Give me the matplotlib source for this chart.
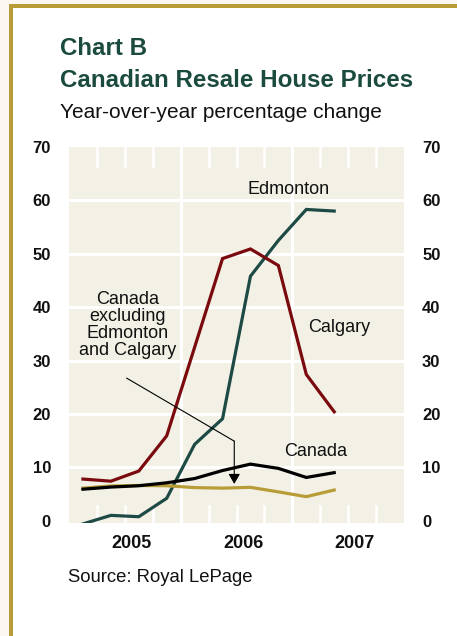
import matplotlib
matplotlib.use("Agg")
import matplotlib.pyplot as plt
from matplotlib.patches import Rectangle

plt.rcParams['font.family'] = ['Liberation Sans', 'DejaVu Sans']

# ---------------- data ----------------
quarters = ['2005Q1', '2005Q2', '2005Q3', '2005Q4',
            '2006Q1', '2006Q2', '2006Q3', '2006Q4',
            '2007Q1', '2007Q2']
calgary = [7.8, 7.4, 9.3, 15.9, 32.5, 49.1, 50.9, 47.8, 27.4, 20.4]
edmonton = [-0.6, 1.0, 0.75, 4.2, 14.3, 19.1, 45.8, 52.5, 58.3, 58.0]
canada = [5.9, 6.3, 6.55, 7.1, 7.9, 9.4, 10.6, 9.8, 8.1, 9.0]
canada_excl = [6.1, 6.5, 6.6, 6.55, 6.2, 6.1, 6.25, 5.4, 4.5, 5.75]
year_labels = ['2005', '2006', '2007']
y_ticks = [0, 10, 20, 30, 40, 50, 60, 70]

x = [int(q[:4]) + (int(q[-1]) - 0.5) / 4 for q in quarters]

# ---------------- colours ----------------
bg_out = '#faf8f0'
gold = '#b89c38'
plot_bg = '#f3f1e6'
red = '#7a0a0d'
teal = '#1d4a44'
title_col = '#1b4a3e'
txt = '#111111'

W, H = 457, 636
fig = plt.figure(figsize=(W / 100, H / 100), dpi=100, facecolor=bg_out)

# frame
fig.patches.append(Rectangle((9 / W, 0), 1, 1 - 4 / H, transform=fig.transFigure,
                             facecolor=gold, edgecolor='none', zorder=-2))
fig.patches.append(Rectangle((13 / W, 0), 1, 1 - 8 / H, transform=fig.transFigure,
                             facecolor='white', edgecolor='none', zorder=-1))

ax = fig.add_axes([69 / W, (H - 523) / H, 335 / W, 376 / H])
ax.set_zorder(2)
ax.set_facecolor(plot_bg)
ax.set_xlim(2005, 2008)
ax.set_ylim(-0.43, 70)
for s in ax.spines.values():
    s.set_visible(False)

# grid
for yv in y_ticks[1:-1]:
    ax.axhline(yv, color='white', lw=2.2, zorder=1)
for yr in (2006, 2007):
    ax.axvline(yr, color='white', lw=2.2, zorder=1)
for yr in (2005, 2006, 2007):
    for q in (0.25, 0.5, 0.75):
        ax.axvline(yr + q, ymin=0, ymax=0.044, color='white', lw=1.8, zorder=1)
        ax.axvline(yr + q, ymin=0.95, ymax=1, color='white', lw=1.8, zorder=1)

# lines
ax.plot(x, edmonton, color=teal, lw=2.3, zorder=3, solid_joinstyle='miter')
ax.plot(x, calgary, color=red, lw=2.3, zorder=3, solid_joinstyle='miter')
ax.plot(x, canada_excl, color=gold, lw=2.3, zorder=4, solid_joinstyle='miter')
ax.plot(x, canada, color='black', lw=2.3, zorder=5, solid_joinstyle='miter')

# ticks
ax.set_yticks(y_ticks)
ax.set_yticklabels([str(v) for v in y_ticks])
ax.set_xticks([2005.56, 2006.56, 2007.56])
ax.set_xticklabels(year_labels)
ax.tick_params(axis='y', length=0, pad=13, labelsize=12, left=False, right=False,
               labelleft=True, labelright=True)
ax.tick_params(axis='x', length=0, pad=9, labelsize=13)
for lab in ax.get_yticklabels() + ax.get_xticklabels():
    lab.set_fontweight('bold')
    lab.set_color(txt)

# annotations
ax.text(2006.963, 62.1, 'Edmonton', fontsize=13, ha='center', va='center', color=txt, zorder=6)
ax.text(2007.42, 36.2, 'Calgary', fontsize=13, ha='center', va='center', color=txt, zorder=6)
ax.text(2007.208, 12.9, 'Canada', fontsize=13, ha='center', va='center', color=txt, zorder=6)
ax.text(2005.521, 36.6, 'Canada\nexcluding\nEdmonton\nand Calgary', fontsize=13,
        ha='center', va='center', color=txt, linespacing=1.0, zorder=6)

ax.plot([2005.517, 2006.48], [26.7, 14.9], color='black', lw=0.8, zorder=6)
ax.annotate('', xy=(2006.48, 6.9), xytext=(2006.48, 14.9),
            arrowprops=dict(arrowstyle='-|>,head_length=0.6,head_width=0.35',
                            mutation_scale=10, lw=0.8, color='black',
                            shrinkA=0, shrinkB=0), zorder=6)

# titles
fig.text(60 / W, 1 - 55 / H, 'Chart B', fontsize=17.4, fontweight='bold',
         color=title_col, ha='left', va='baseline')
fig.text(60 / W, 1 - 87 / H, 'Canadian Resale House Prices', fontsize=17.4,
         fontweight='bold', color=title_col, ha='left', va='baseline')
fig.text(60 / W, 1 - 118 / H, 'Year-over-year percentage change', fontsize=15,
         color=txt, ha='left', va='baseline')
fig.text(68 / W, 1 - 581.5 / H, 'Source: Royal LePage', fontsize=13.3,
         color=txt, ha='left', va='baseline')

fig.savefig('out.png', dpi=100, facecolor=bg_out)
